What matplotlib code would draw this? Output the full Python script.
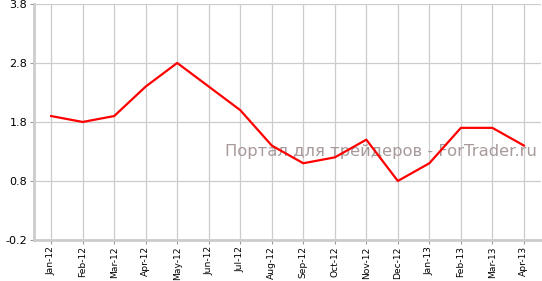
import matplotlib
matplotlib.use("Agg")
import matplotlib.pyplot as plt
import numpy as np

months = ["Jan-12", "Feb-12", "Mar-12", "Apr-12", "May-12", "Jun-12", "Jul-12", "Aug-12",
          "Sep-12", "Oct-12", "Nov-12", "Dec-12", "Jan-13", "Feb-13", "Mar-13", "Apr-13"]
values = [1.9, 1.8, 1.9, 2.4, 2.8, 2.4, 2.0, 1.4, 1.1, 1.2, 1.5, 0.8, 1.1, 1.7, 1.7, 1.4]
yticks = [-0.2, 0.8, 1.8, 2.8, 3.8]

fig = plt.figure(figsize=(5.42, 2.81), dpi=100)
ax = fig.add_axes([0.063, 0.146, 0.935, 0.84])

x = np.arange(len(months))
ax.plot(x, values, color="#ff0000", linewidth=1.6, zorder=3)

ax.set_xlim(-0.54, len(months) - 1 + 0.54)
ax.set_ylim(-0.2, 3.8)
ax.set_xticks(x)
ax.set_xticklabels(months, rotation=90, fontsize=6.6)
ax.set_yticks(yticks)
ax.set_yticklabels(["%.1f" % v for v in yticks], fontsize=8)

ax.grid(True, color="#cccccc", linewidth=0.9)
ax.set_axisbelow(True)
for side in ["top", "right"]:
    ax.spines[side].set_visible(False)
for side in ["left", "bottom"]:
    ax.spines[side].set_color("#cccccc")
    ax.spines[side].set_linewidth(2)
ax.tick_params(axis="both", color="#999999", length=3, width=0.8, pad=2)
ax.tick_params(axis="x", pad=1.5)

# watermark
ax.text(0.993, 0.375, "Портал для трейдеров - ForTrader.ru", transform=ax.transAxes,
        ha="right", va="center", fontsize=11.8, color="#a89a9a", zorder=2)

plt.savefig("out.png", dpi=100)
